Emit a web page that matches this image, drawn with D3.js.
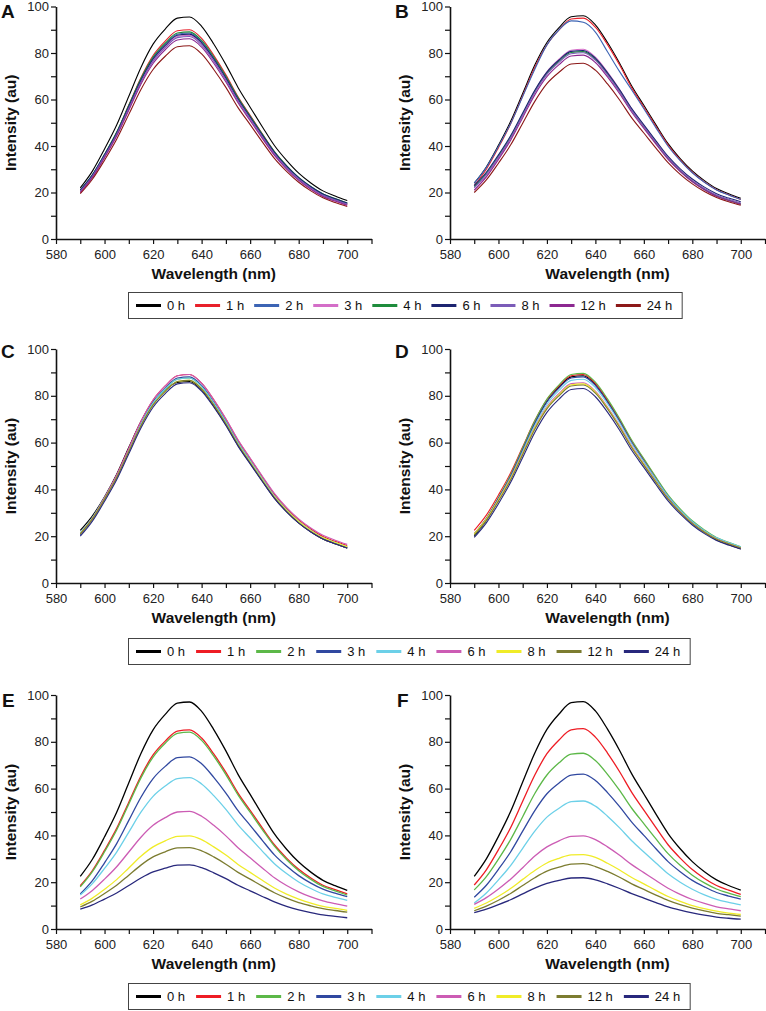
<!DOCTYPE html>
<html><head><meta charset="utf-8">
<script src="https://cdn.jsdelivr.net/npm/d3@7"></script>
<style>body{margin:0;background:#fff}svg{display:block;font-family:"Liberation Sans",Arial,sans-serif}</style>
</head><body><svg id="chart" width="766" height="1011"></svg>
<script>
// ---- data ----
const wavelengths = [590,595,600,605,610,615,620,625,630,635,640,645,650,655,660,665,670,675,680,685,690,695,700];
const timeLabels = ["0 h","1 h","2 h","3 h","4 h","6 h","8 h","12 h","24 h"];
const colorsAB = ["#000000","#e8202a","#3c64b4","#d46ec8","#1e8c3c","#1c2470","#7b5cb8","#8c2890","#8c1818"];
const colorsCF = ["#000000","#ee1c24","#5cb848","#3048a0","#6cd0e8","#cc5cb4","#f0ec28","#7c7c30","#28287c"];
const xTickValues = [580,590,600,610,620,630,640,650,660,670,680,690,700,710];
const xTickLabels = [580,600,620,640,660,680,700];
const yTickValues = [0,10,20,30,40,50,60,70,80,90,100];
const yTickLabels = [0,20,40,60,80,100];

const panelA = [
 [22,29.2,38.7,49.0,61.4,73.8,83.8,90.3,95.0,95.5,91.5,83.9,75.0,65.2,56.7,48.3,40.2,33.8,28.3,24.1,20.7,18.5,16.5],
 [20,26.8,35.9,45.7,57.6,69.4,78.9,85.1,89.6,90.0,86.3,79.0,70.6,61.2,53.2,45.2,37.5,31.4,26.2,22.2,19.0,16.9,15],
 [21,27.6,36.3,45.8,57.2,68.6,77.8,83.8,88.1,88.6,84.9,77.8,69.5,60.3,52.4,44.6,37.1,31.1,26.0,22.1,18.9,16.9,15],
 [20,26.6,35.3,44.8,56.2,67.6,76.8,82.8,87.1,87.6,83.9,76.8,68.6,59.5,51.7,43.9,36.4,30.4,25.5,21.6,18.4,16.3,14.5],
 [21,27.6,36.4,46.0,57.5,69.0,78.2,84.2,88.6,89.1,85.4,78.3,70.0,60.8,52.9,45.1,37.6,31.6,26.5,22.6,19.4,17.4,15.5],
 [21,27.5,36.2,45.6,57.0,68.3,77.4,83.3,87.6,88.1,84.4,77.4,69.2,60.2,52.4,44.7,37.3,31.3,26.4,22.5,19.4,17.3,15.5],
 [20.5,27.0,35.6,45.0,56.2,67.4,76.4,82.3,86.6,87.1,83.4,76.5,68.4,59.4,51.7,44.0,36.6,30.7,25.8,22.0,18.8,16.8,15],
 [20,26.5,35.0,44.3,55.4,66.6,75.5,81.4,85.6,86.1,82.5,75.6,67.5,58.6,50.9,43.3,36.0,30.1,25.2,21.4,18.3,16.3,14.5],
 [19.5,25.7,33.9,42.9,53.6,64.3,72.9,78.6,82.7,83.1,79.6,72.9,65.2,56.5,49.2,41.8,34.7,29.1,24.4,20.7,17.7,15.7,14]
];
const panelB = [
 [24,31.0,40.3,50.5,62.6,74.8,84.5,90.9,95.6,96.0,92.1,84.5,75.6,65.8,57.5,49.1,41.0,34.6,29.3,25.1,21.7,19.5,17.5],
 [23,30.0,39.3,49.5,61.6,73.8,83.5,89.9,94.6,95.0,91.1,83.6,74.8,65.0,56.7,48.4,40.4,34.0,28.7,24.5,21.2,19.0,17],
 [24,30.8,39.8,49.6,61.3,73.0,83.5,90.0,93.8,93.2,89.0,80.5,72.0,64.1,56.0,47.8,39.9,33.7,28.5,24.4,21.1,18.9,17],
 [21,26.9,34.7,43.3,53.5,63.7,71.9,77.3,81.2,81.6,78.2,71.8,64.3,56.0,48.9,41.8,35.0,29.5,25.0,21.4,18.6,16.7,15],
 [22.5,28.2,35.7,43.9,53.7,63.5,71.3,76.5,80.2,80.6,77.3,71.0,63.6,55.4,48.4,41.4,34.7,29.3,24.8,21.3,18.5,16.7,15],
 [23,28.7,36.2,44.4,54.2,64.0,71.8,77.0,80.7,81.1,77.8,71.5,64.2,56.1,49.1,42.2,35.5,30.2,25.8,22.3,19.5,17.6,16],
 [22,27.7,35.2,43.4,53.2,63.0,70.8,76.0,79.7,80.1,76.9,70.6,63.3,55.3,48.4,41.5,34.9,29.6,25.2,21.7,18.9,17.1,15.5],
 [21,26.7,34.2,42.4,52.2,62.0,69.8,75.0,78.7,79.1,75.9,69.7,62.5,54.5,47.6,40.8,34.2,29.0,24.6,21.2,18.4,16.6,15],
 [20,25.4,32.6,40.4,49.8,59.2,66.8,71.7,75.3,75.6,72.6,66.7,59.8,52.1,45.6,39.1,32.8,27.8,23.7,20.4,17.8,16.0,14.5]
];
const panelC = [
 [22.5,28.7,36.9,46.5,58.0,69.0,77.5,82.5,85.7,86.1,82.5,75.6,67.6,58.8,51.2,43.6,36.3,30.5,25.7,21.9,18.8,16.8,15],
 [21,27.6,36.4,46.0,57.5,69.0,78.2,84.2,88.6,89.1,85.4,78.3,70.1,61.0,53.2,45.4,37.9,31.9,27.0,23.1,19.9,17.8,16],
 [21,27.5,36.1,45.5,56.7,67.9,76.9,82.8,87.1,87.6,83.9,77.0,68.9,59.9,52.2,44.5,37.1,31.2,26.3,22.5,19.3,17.3,15.5],
 [20.5,27.1,35.8,45.3,56.7,68.1,77.3,83.3,87.6,88.1,84.4,77.3,69.1,60.0,52.2,44.4,36.9,30.9,26.0,22.1,18.9,16.8,15],
 [21.5,28.0,36.5,45.8,56.9,68.1,77.0,82.9,87.1,87.6,83.9,77.0,68.9,59.9,52.2,44.5,37.1,31.2,26.3,22.5,19.3,17.3,15.5],
 [21,27.6,36.4,46.0,57.5,69.0,78.2,84.2,88.6,89.1,85.4,78.4,70.2,61.2,53.4,45.7,38.3,32.3,27.4,23.5,20.4,18.3,16.5],
 [21,27.4,35.9,45.1,56.2,67.2,76.1,81.9,86.1,86.6,83.0,76.1,68.1,59.3,51.7,44.1,36.8,31.0,26.2,22.4,19.3,17.3,15.5],
 [21,27.4,35.9,45.1,56.2,67.2,76.1,81.9,86.1,86.6,83.0,76.1,68.0,59.1,51.4,43.8,36.5,30.6,25.7,21.9,18.8,16.8,15],
 [20,26.4,34.9,44.1,55.2,66.2,75.1,80.9,85.1,85.6,82.0,75.2,67.3,58.5,50.9,43.4,36.2,30.4,25.6,21.8,18.8,16.8,15]
];
const panelD = [
 [20,26.7,35.5,45.2,56.8,68.3,77.6,83.7,88.1,88.6,84.8,77.7,69.3,60.1,52.2,44.3,36.7,30.7,25.6,21.7,18.4,16.4,14.5],
 [22.5,29.0,37.6,47.0,58.2,69.4,78.4,84.3,88.6,89.1,85.3,78.2,69.8,60.6,52.7,44.8,37.2,31.2,26.1,22.2,18.9,16.9,15],
 [21,27.7,36.5,46.2,57.8,69.3,78.6,84.7,89.1,89.6,85.8,78.7,70.3,61.1,53.2,45.3,37.7,31.7,26.6,22.7,19.4,17.4,15.5],
 [21,27.5,36.2,45.6,57.0,68.3,77.4,83.3,87.6,88.1,84.4,77.3,69.1,60.0,52.2,44.4,36.9,30.9,26.0,22.1,18.9,16.8,15],
 [20.5,27.0,35.6,45.0,56.2,67.4,76.4,82.3,86.6,87.1,83.5,76.6,68.5,59.6,51.9,44.3,37.0,31.1,26.2,22.4,19.3,17.3,15.5],
 [21,27.3,35.6,44.7,55.6,66.5,75.3,81.0,85.2,85.6,82.0,75.2,67.3,58.5,50.9,43.4,36.2,30.4,25.6,21.8,18.8,16.8,15],
 [21,27.3,35.5,44.5,55.4,66.2,74.9,80.5,84.7,85.1,81.6,74.8,66.9,58.1,50.7,43.2,36.0,30.3,25.5,21.8,18.7,16.8,15],
 [20.5,26.8,35.0,44.0,54.9,65.7,74.4,80.0,84.2,84.6,81.1,74.4,66.5,57.8,50.4,43.0,35.9,30.2,25.4,21.7,18.7,16.8,15],
 [19.5,25.7,33.9,42.9,53.6,64.3,72.9,78.6,82.7,83.1,79.6,73.0,65.3,56.7,49.4,42.1,35.1,29.5,24.8,21.1,18.2,16.2,14.5]
];
const panelE = [
 [22.5,29.8,39.4,49.9,62.5,75.0,85.1,91.7,96.5,97.0,93.0,85.2,76.1,66.1,57.5,48.9,40.6,34.1,28.6,24.3,20.8,18.5,16.5],
 [18.5,25.0,33.6,43.0,54.2,65.4,74.4,80.3,84.6,85.1,81.6,74.8,66.9,58.1,50.7,43.2,36.0,30.3,25.5,21.8,18.7,16.8,15],
 [18,24.5,33.0,42.3,53.4,64.6,73.5,79.4,83.6,84.1,80.6,73.9,66.0,57.3,49.9,42.5,35.4,29.7,24.9,21.2,18.2,16.3,14.5],
 [15,20.7,28.3,36.5,46.4,56.3,64.3,69.5,73.2,73.6,70.6,64.8,58.1,50.6,44.3,37.9,31.7,26.9,22.8,19.6,17.0,15.3,13.8],
 [14.5,19.4,25.9,32.9,41.4,49.9,56.7,61.1,64.3,64.7,62.0,57.0,51.1,44.5,38.9,33.3,27.9,23.7,20.1,17.3,15.0,13.5,12.2],
 [12.8,16.5,21.3,26.6,32.9,39.2,44.3,47.6,50.0,50.3,48.2,44.3,39.8,34.7,30.4,26.1,21.9,18.6,15.9,13.7,12.0,10.8,9.8],
 [10.3,13.2,17.0,21.1,26.1,31.1,35.1,37.7,39.6,39.8,38.2,35.1,31.6,27.6,24.2,20.8,17.5,14.9,12.8,11.1,9.7,8.8,8],
 [9.4,11.9,15.2,18.7,23.0,27.3,30.8,33.0,34.7,34.8,33.4,30.8,27.7,24.2,21.3,18.3,15.5,13.2,11.3,9.9,8.7,7.9,7.2],
 [8.5,10.3,12.8,15.4,18.6,21.8,24.4,26.0,27.3,27.4,26.2,24.0,21.5,18.7,16.3,13.9,11.6,9.7,8.2,7.0,6.0,5.4,4.8]
];
const panelF = [
 [22.5,30.0,39.6,50.2,62.8,75.2,85.3,91.9,96.7,97.2,93.2,85.4,76.3,66.3,57.7,49.1,40.8,34.3,28.8,24.5,21.0,18.6,16.6],
 [18.8,25.3,33.9,43.3,54.6,65.8,74.9,80.8,85.1,85.6,82.0,75.2,67.2,58.4,50.8,43.3,36.0,30.3,25.4,21.6,18.6,16.6,14.8],
 [16.7,22.4,29.9,38.2,48.0,57.9,65.8,71.0,74.7,75.1,72.0,66.1,59.2,51.6,45.0,38.5,32.2,27.2,23.0,19.7,17.1,15.3,13.8],
 [13.6,18.7,25.5,32.9,41.8,50.6,57.8,62.4,65.8,66.2,63.5,58.3,52.3,45.7,40.0,34.3,28.8,24.5,20.8,18.0,15.6,14.1,12.8],
 [11.1,15.4,21.0,27.1,34.5,41.8,47.8,51.6,54.4,54.7,52.5,48.2,43.2,37.7,32.9,28.2,23.6,20.0,17.0,14.6,12.7,11.4,10.3],
 [10.5,13.4,17.1,21.3,26.2,31.2,35.1,37.7,39.6,39.8,38.2,35.1,31.5,27.5,24.1,20.7,17.4,14.8,12.6,10.9,9.5,8.6,7.8],
 [8.8,11.1,14.0,17.3,21.2,25.0,28.2,30.2,31.7,31.8,30.6,28.1,25.2,22.0,19.3,16.5,13.9,11.8,10.0,8.7,7.6,6.8,6.2],
 [7.8,9.8,12.3,15.2,18.6,21.9,24.7,26.4,27.7,27.9,26.7,24.6,22.1,19.3,16.9,14.5,12.2,10.4,8.9,7.7,6.7,6.1,5.5],
 [7.0,8.5,10.4,12.5,15.0,17.5,19.5,20.8,21.8,21.9,21.0,19.3,17.3,15.1,13.2,11.3,9.5,8.1,6.9,5.9,5.1,4.6,4.2]
];

// ---- layout ----
const svg = d3.select("#chart");
const panels = [
 {id:"A", data:panelA, colors:colorsAB, x0:56,  x1:371.5, yTop:6.5, yBot:239, lx:1,   ly:18,  tx:10,    sw:1.1},
 {id:"B", data:panelB, colors:colorsAB, x0:450, x1:765,   yTop:6.5, yBot:239, lx:395, ly:18,  tx:404.5, sw:1.1},
 {id:"C", data:panelC, colors:colorsCF, x0:56,  x1:371.5, yTop:349, yBot:583, lx:1,   ly:358, tx:10,    sw:1.1},
 {id:"D", data:panelD, colors:colorsCF, x0:450, x1:765,   yTop:349, yBot:583, lx:395, ly:358, tx:404.5, sw:1.1},
 {id:"E", data:panelE, colors:colorsCF, x0:56,  x1:371.5, yTop:695, yBot:929, lx:2,   ly:707, tx:10,    sw:1.3},
 {id:"F", data:panelF, colors:colorsCF, x0:450, x1:765,   yTop:695, yBot:929, lx:397, ly:707, tx:404.5, sw:1.3}
];

panels.forEach(p => {
  const x = d3.scaleLinear().domain([580,710]).range([p.x0, p.x1]);
  const y = d3.scaleLinear().domain([0,100]).range([p.yBot, p.yTop]);
  const g = svg.append("g");

  const line = d3.line().x((d,i) => x(wavelengths[i])).y(d => y(d)).curve(d3.curveMonotoneX);
  g.selectAll("path.series").data(p.data).join("path")
    .attr("class","series").attr("d", line).attr("fill","none")
    .attr("stroke", (d,i) => p.colors[i]).attr("stroke-width", p.sw);

  const yAxis = d3.axisLeft(y).tickValues(yTickValues)
    .tickFormat(d => yTickLabels.includes(d) ? d : "").tickSizeInner(5).tickSizeOuter(0).tickPadding(2);
  const ya = g.append("g").attr("transform", `translate(${p.x0},0)`).call(yAxis);
  const xAxis = d3.axisBottom(x).tickValues(xTickValues)
    .tickFormat(d => xTickLabels.includes(d) ? d : "").tickSizeInner(5).tickSizeOuter(0).tickPadding(6);
  const xa = g.append("g").attr("transform", `translate(0,${p.yBot})`).call(xAxis);
  [ya, xa].forEach(a => {
    a.select(".domain").attr("stroke","#111").attr("stroke-width",1.6);
    a.selectAll(".tick line").attr("stroke","#111").attr("stroke-width",1.2);
    a.selectAll(".tick text").attr("fill","#222").style("font-size","13px")
      .style("font-family","'Liberation Sans', Arial, sans-serif");
  });

  g.append("text").attr("x", (p.x0 + p.x1)/2).attr("y", p.yBot + 40)
    .attr("text-anchor","middle").style("font-size","15.5px").style("font-weight","bold")
    .attr("fill","#111").text("Wavelength (nm)");
  g.append("text").attr("transform", `translate(${p.tx},${(p.yTop + p.yBot)/2}) rotate(-90)`)
    .attr("text-anchor","middle").attr("dy","0.36em").style("font-size","15.5px").style("font-weight","bold")
    .attr("fill","#111").text("Intensity (au)");
  g.append("text").attr("x", p.lx).attr("y", p.ly).style("font-size","19px").style("font-weight","bold")
    .attr("fill","#111").text(p.id);
});

// ---- legends ----
function legend(yTop, colors, gap) {
  const g = svg.append("g");
  const box = g.append("rect").attr("x",128.5).attr("y",yTop + 0.5).attr("height",26)
    .attr("fill","#fff").attr("stroke","#444").attr("stroke-width",1);
  let cx = 136;
  let end = cx;
  const cy = yTop + 13.5;
  timeLabels.forEach((t,i) => {
    g.append("line").attr("x1",cx).attr("x2",cx+25).attr("y1",cy).attr("y2",cy)
      .attr("stroke",colors[i]).attr("stroke-width",3);
    const tx = g.append("text").attr("x",cx+31).attr("y",cy).attr("dy","0.36em")
      .style("font-size","13px").attr("fill","#111").text(t);
    const w = tx.node().getComputedTextLength();
    end = cx + 31 + w;
    cx = end + gap;
  });
  box.attr("width", end + 10 - 128.5);
}
legend(292, colorsAB, 10);
legend(638, colorsCF, 11);
legend(983, colorsCF, 11);
</script>
</body></html>
